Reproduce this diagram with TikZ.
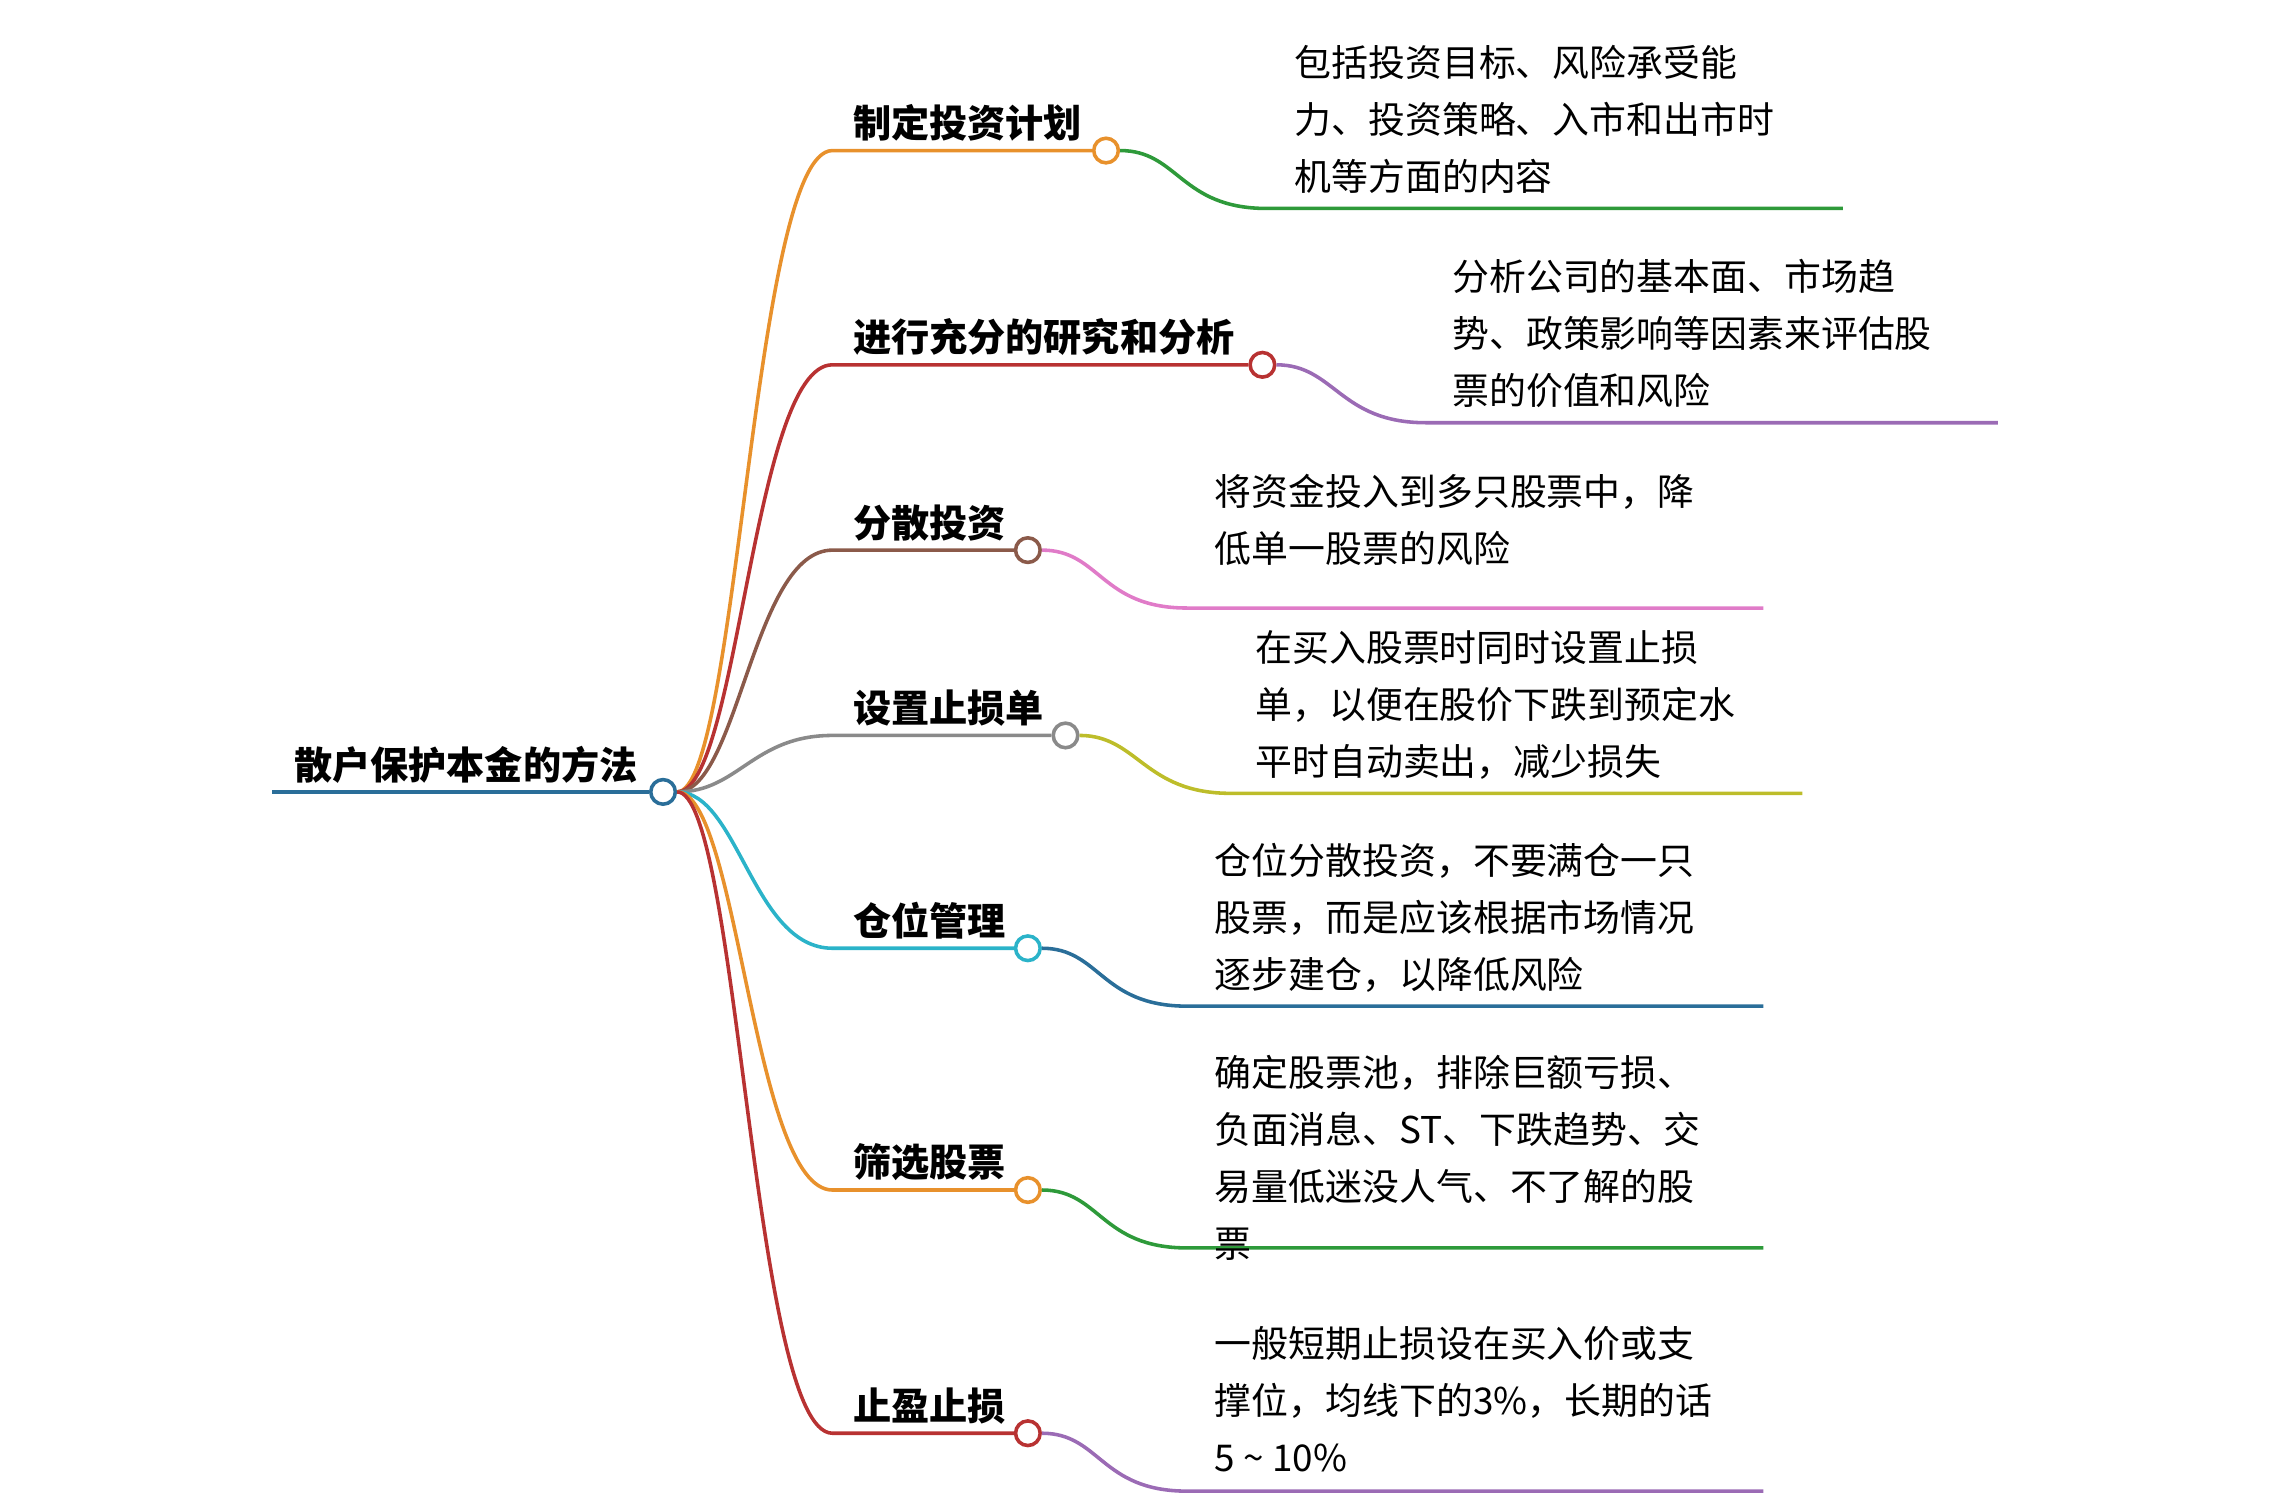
\documentclass[tikz,border=0pt]{standalone}
\usepackage{fontspec}
\setmainfont{Noto Sans CJK SC}
\begin{document}
\begin{tikzpicture}[x=0.02cm,y=-0.02cm,line width=1.4pt,
 dot/.style={circle,draw=#1,fill=white,line width=1.4pt,inner sep=0pt,minimum size=0.34cm},
 btext/.style={anchor=west,font=\fontsize{15}{18}\selectfont\bfseries,inner sep=0pt},
 ltext/.style={anchor=north west,align=left,font=\fontsize{14.5}{22.4}\selectfont,inner sep=0pt}]
\useasboundingbox (0,0) rectangle (1568,1033);
\definecolor{cRoot}{HTML}{2A6E99}
\definecolor{cOr}{HTML}{E8912C}
\definecolor{cRed}{HTML}{B83232}
\definecolor{cBr}{HTML}{8B5A4A}
\definecolor{cGr}{HTML}{8A8A8A}
\definecolor{cCy}{HTML}{2BB3C9}
\definecolor{lGreen}{HTML}{2E9A3A}
\definecolor{lPur}{HTML}{9B6BB5}
\definecolor{lPink}{HTML}{E07BC8}
\definecolor{lOl}{HTML}{BDBD2A}
\definecolor{lTeal}{HTML}{2A6E99}
% root
\coordinate (rs) at (188,547);
\node[dot=cRoot] (r) at (458,547) {};
\draw[cRoot] (rs) -- (r.west);
\node[btext] (rt) at (202,528) {散户保护本金的方法};
% branches: y, circle x, color, leaf color, leaf end x, leaf start x, text
\foreach \i/\y/\cx/\bc/\lc/\le/\lx/\lend in {1/104/764/cOr/lGreen/875/1273/0,2/252/872/cRed/lPur/985/1380/0,3/380/710/cBr/lPink/820/1218/0,4/508/736/cGr/lOl/850/1245/0,5/655/710/cCy/lTeal/820/1218/0,6/822/710/cOr/lGreen/820/1218/0,7/990/710/cRed/lPur/820/1218/0}{
 \node[dot=\bc] (b\i) at (\cx,\y) {};
 \coordinate (k\i) at (575,\y);
 \draw[\bc] (r.east) .. controls (510,547) and (520,\y) .. (k\i) -- (b\i.west);
 \coordinate (m\i) at (\le,\y+40);
 \coordinate (e\i) at (\lx,\y+40);
 \draw[\lc] (b\i.east) .. controls (\cx+50,\y) and (\le-60,\y+40) .. (m\i) -- (e\i);
}
\node[btext] at (588,85) {制定投资计划};
\node[btext] at (588,233) {进行充分的研究和分析};
\node[btext] at (588,361) {分散投资};
\node[btext] at (588,489) {设置止损单};
\node[btext] at (588,636) {仓位管理};
\node[btext] at (588,803) {筛选股票};
\node[btext] at (588,971) {止盈止损};
\node[ltext] at (893,30) {包括投资目标、风险承受能\\力、投资策略、入市和出市时\\机等方面的内容};
\node[ltext] at (1002,178) {分析公司的基本面、市场趋\\势、政策影响等因素来评估股\\票的价值和风险};
\node[ltext] at (838,326) {将资金投入到多只股票中，降\\低单一股票的风险};
\node[ltext] at (866,434) {在买入股票时同时设置止损\\单，以便在股价下跌到预定水\\平时自动卖出，减少损失};
\node[ltext] at (838,581) {仓位分散投资，不要满仓一只\\股票，而是应该根据市场情况\\逐步建仓，以降低风险};
\node[ltext] at (838,728) {确定股票池，排除巨额亏损、\\负面消息、ST、下跌趋势、交\\易量低迷没人气、不了解的股\\票};
\node[ltext] at (838,915) {一般短期止损设在买入价或支\\撑位，均线下的3\%，长期的话\\5 \textasciitilde{} 10\%};
\end{tikzpicture}
\end{document}
